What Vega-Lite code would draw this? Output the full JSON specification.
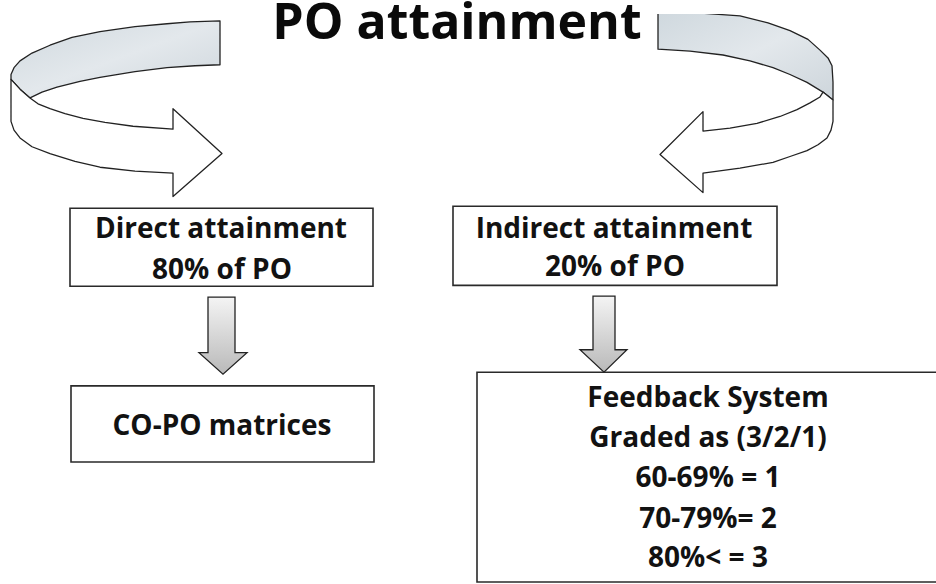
{
  "$schema": "https://vega.github.io/schema/vega-lite/v6.json",
  "width": 936,
  "height": 584,
  "padding": 0,
  "autosize": {"type": "fit", "contains": "padding"},
  "background": "white",
  "config": {"view": {"stroke": null}},
  "datasets": {
    "boxes": [
      {"id": "direct", "x1": 70, "x2": 373, "y1": 199, "y2": 279},
      {"id": "indirect", "x1": 453, "x2": 777, "y1": 197, "y2": 278},
      {"id": "copo", "x1": 71, "x2": 374, "y1": 381, "y2": 459},
      {"id": "feedback", "x1": 477, "x2": 945, "y1": 367, "y2": 582}
    ],
    "shapes": [
      {"id": "L1", "part": "band", "o": 1, "x": 220, "y": 7},
      {"id": "L1", "part": "band", "o": 2, "x": 190, "y": 8},
      {"id": "L1", "part": "band", "o": 3, "x": 167, "y": 10},
      {"id": "L1", "part": "band", "o": 4, "x": 135, "y": 13},
      {"id": "L1", "part": "band", "o": 5, "x": 100, "y": 18},
      {"id": "L1", "part": "band", "o": 6, "x": 72, "y": 24},
      {"id": "L1", "part": "band", "o": 7, "x": 50, "y": 32},
      {"id": "L1", "part": "band", "o": 8, "x": 32, "y": 40},
      {"id": "L1", "part": "band", "o": 9, "x": 20, "y": 48},
      {"id": "L1", "part": "band", "o": 10, "x": 14, "y": 55},
      {"id": "L1", "part": "band", "o": 11, "x": 11, "y": 62},
      {"id": "L1", "part": "band", "o": 12, "x": 11, "y": 67},
      {"id": "L1", "part": "band", "o": 13, "x": 20, "y": 77},
      {"id": "L1", "part": "band", "o": 14, "x": 30, "y": 86},
      {"id": "L1", "part": "band", "o": 15, "x": 42, "y": 80},
      {"id": "L1", "part": "band", "o": 16, "x": 57, "y": 75},
      {"id": "L1", "part": "band", "o": 17, "x": 80, "y": 69},
      {"id": "L1", "part": "band", "o": 18, "x": 100, "y": 65},
      {"id": "L1", "part": "band", "o": 19, "x": 135, "y": 59},
      {"id": "L1", "part": "band", "o": 20, "x": 167, "y": 55},
      {"id": "L1", "part": "band", "o": 21, "x": 195, "y": 53},
      {"id": "L1", "part": "band", "o": 22, "x": 220, "y": 52},

      {"id": "L2", "part": "white", "o": 1, "x": 11, "y": 67},
      {"id": "L2", "part": "white", "o": 2, "x": 11, "y": 110},
      {"id": "L2", "part": "white", "o": 3, "x": 14, "y": 119},
      {"id": "L2", "part": "white", "o": 4, "x": 20, "y": 127},
      {"id": "L2", "part": "white", "o": 5, "x": 32, "y": 136},
      {"id": "L2", "part": "white", "o": 6, "x": 50, "y": 143},
      {"id": "L2", "part": "white", "o": 7, "x": 75, "y": 151},
      {"id": "L2", "part": "white", "o": 8, "x": 100, "y": 157},
      {"id": "L2", "part": "white", "o": 9, "x": 135, "y": 161},
      {"id": "L2", "part": "white", "o": 10, "x": 173, "y": 163},
      {"id": "L2", "part": "white", "o": 11, "x": 173, "y": 187},
      {"id": "L2", "part": "white", "o": 12, "x": 222, "y": 143},
      {"id": "L2", "part": "white", "o": 13, "x": 173, "y": 97},
      {"id": "L2", "part": "white", "o": 14, "x": 173, "y": 118},
      {"id": "L2", "part": "white", "o": 15, "x": 133, "y": 115},
      {"id": "L2", "part": "white", "o": 16, "x": 105, "y": 111},
      {"id": "L2", "part": "white", "o": 17, "x": 83, "y": 107},
      {"id": "L2", "part": "white", "o": 18, "x": 65, "y": 102},
      {"id": "L2", "part": "white", "o": 19, "x": 50, "y": 97},
      {"id": "L2", "part": "white", "o": 20, "x": 38, "y": 92},
      {"id": "L2", "part": "white", "o": 21, "x": 30, "y": 86},
      {"id": "L2", "part": "white", "o": 22, "x": 20, "y": 77},

      {"id": "R1", "part": "band", "o": 1, "x": 658, "y": -2},
      {"id": "R1", "part": "band", "o": 2, "x": 700, "y": -1},
      {"id": "R1", "part": "band", "o": 3, "x": 740, "y": 2},
      {"id": "R1", "part": "band", "o": 4, "x": 768, "y": 9},
      {"id": "R1", "part": "band", "o": 5, "x": 790, "y": 17},
      {"id": "R1", "part": "band", "o": 6, "x": 808, "y": 26},
      {"id": "R1", "part": "band", "o": 7, "x": 820, "y": 37},
      {"id": "R1", "part": "band", "o": 8, "x": 828, "y": 45},
      {"id": "R1", "part": "band", "o": 9, "x": 832, "y": 53},
      {"id": "R1", "part": "band", "o": 10, "x": 833, "y": 70},
      {"id": "R1", "part": "band", "o": 11, "x": 833, "y": 88},
      {"id": "R1", "part": "band", "o": 12, "x": 828, "y": 84},
      {"id": "R1", "part": "band", "o": 13, "x": 823, "y": 80},
      {"id": "R1", "part": "band", "o": 14, "x": 807, "y": 70},
      {"id": "R1", "part": "band", "o": 15, "x": 790, "y": 62},
      {"id": "R1", "part": "band", "o": 16, "x": 773, "y": 55},
      {"id": "R1", "part": "band", "o": 17, "x": 750, "y": 48},
      {"id": "R1", "part": "band", "o": 18, "x": 723, "y": 42},
      {"id": "R1", "part": "band", "o": 19, "x": 690, "y": 38},
      {"id": "R1", "part": "band", "o": 20, "x": 658, "y": 36},

      {"id": "R2", "part": "white", "o": 1, "x": 833, "y": 88},
      {"id": "R2", "part": "white", "o": 2, "x": 833, "y": 110},
      {"id": "R2", "part": "white", "o": 3, "x": 831, "y": 119},
      {"id": "R2", "part": "white", "o": 4, "x": 827, "y": 127},
      {"id": "R2", "part": "white", "o": 5, "x": 818, "y": 134},
      {"id": "R2", "part": "white", "o": 6, "x": 807, "y": 140},
      {"id": "R2", "part": "white", "o": 7, "x": 790, "y": 146},
      {"id": "R2", "part": "white", "o": 8, "x": 773, "y": 152},
      {"id": "R2", "part": "white", "o": 9, "x": 740, "y": 158},
      {"id": "R2", "part": "white", "o": 10, "x": 703, "y": 163},
      {"id": "R2", "part": "white", "o": 11, "x": 703, "y": 183},
      {"id": "R2", "part": "white", "o": 12, "x": 660, "y": 144},
      {"id": "R2", "part": "white", "o": 13, "x": 703, "y": 100},
      {"id": "R2", "part": "white", "o": 14, "x": 703, "y": 120},
      {"id": "R2", "part": "white", "o": 15, "x": 730, "y": 117},
      {"id": "R2", "part": "white", "o": 16, "x": 757, "y": 112},
      {"id": "R2", "part": "white", "o": 17, "x": 780, "y": 105},
      {"id": "R2", "part": "white", "o": 18, "x": 797, "y": 98},
      {"id": "R2", "part": "white", "o": 19, "x": 810, "y": 91},
      {"id": "R2", "part": "white", "o": 20, "x": 820, "y": 85},
      {"id": "R2", "part": "white", "o": 21, "x": 823, "y": 80},
      {"id": "R2", "part": "white", "o": 22, "x": 828, "y": 84},

      {"id": "D1", "part": "down", "o": 1, "x": 208, "y": 290},
      {"id": "D1", "part": "down", "o": 2, "x": 235, "y": 290},
      {"id": "D1", "part": "down", "o": 3, "x": 235, "y": 347},
      {"id": "D1", "part": "down", "o": 4, "x": 247, "y": 347},
      {"id": "D1", "part": "down", "o": 5, "x": 223, "y": 369},
      {"id": "D1", "part": "down", "o": 6, "x": 199, "y": 347},
      {"id": "D1", "part": "down", "o": 7, "x": 208, "y": 347},

      {"id": "D2", "part": "down", "o": 1, "x": 593, "y": 289},
      {"id": "D2", "part": "down", "o": 2, "x": 615, "y": 289},
      {"id": "D2", "part": "down", "o": 3, "x": 615, "y": 344},
      {"id": "D2", "part": "down", "o": 4, "x": 627, "y": 344},
      {"id": "D2", "part": "down", "o": 5, "x": 604, "y": 367},
      {"id": "D2", "part": "down", "o": 6, "x": 580, "y": 344},
      {"id": "D2", "part": "down", "o": 7, "x": 593, "y": 344}
    ],
    "labels": [
      {"text": "Direct attainment", "x": 221, "y": 230},
      {"text": "80% of PO", "x": 222, "y": 271},
      {"text": "Indirect attainment", "x": 614, "y": 229},
      {"text": "20% of PO", "x": 615, "y": 268},
      {"text": "CO-PO matrices", "x": 222, "y": 431},
      {"text": "Feedback System", "x": 708, "y": 403},
      {"text": "Graded as (3/2/1)", "x": 708, "y": 444},
      {"text": "60-69% = 1", "x": 708, "y": 485},
      {"text": "70-79%= 2", "x": 708, "y": 527},
      {"text": "80%< = 3", "x": 708, "y": 567}
    ],
    "title": [
      {"text": "PO attainment", "x": 457, "y": 26}
    ]
  },
  "layer": [
    {
      "data": {"name": "boxes"},
      "mark": {"type": "rect", "fill": "white", "stroke": "#2a2a2a", "strokeWidth": 1.6, "clip": true},
      "encoding": {
        "x": {"field": "x1", "type": "quantitative", "scale": {"domain": [0, 936], "nice": false, "zero": false}, "axis": null},
        "x2": {"field": "x2"},
        "y": {"field": "y1", "type": "quantitative", "scale": {"domain": [0, 584], "nice": false, "zero": false, "reverse": true}, "axis": null},
        "y2": {"field": "y2"}
      }
    },
    {
      "data": {"name": "shapes"},
      "transform": [{"filter": "datum.part === 'band'"}],
      "mark": {"type": "line", "interpolate": "linear-closed", "stroke": "#222", "strokeWidth": 1.3, "strokeJoin": "round",
        "fill": {"gradient": "linear", "x1": 0, "y1": 0, "x2": 1, "y2": 1, "stops": [{"offset": 0, "color": "#cfd8de"}, {"offset": 0.5, "color": "#e3e8ec"}, {"offset": 1, "color": "#cdd5db"}]}, "clip": true},
      "encoding": {
        "x": {"field": "x", "type": "quantitative", "scale": {"domain": [0, 936], "nice": false, "zero": false}, "axis": null},
        "y": {"field": "y", "type": "quantitative", "scale": {"domain": [0, 584], "nice": false, "zero": false, "reverse": true}, "axis": null},
        "detail": {"field": "id"},
        "order": {"field": "o", "type": "quantitative"}
      }
    },
    {
      "data": {"name": "shapes"},
      "transform": [{"filter": "datum.part === 'white'"}],
      "mark": {"type": "line", "interpolate": "linear-closed", "stroke": "#222", "strokeWidth": 1.3, "strokeJoin": "round", "fill": "white", "clip": true},
      "encoding": {
        "x": {"field": "x", "type": "quantitative", "scale": {"domain": [0, 936], "nice": false, "zero": false}, "axis": null},
        "y": {"field": "y", "type": "quantitative", "scale": {"domain": [0, 584], "nice": false, "zero": false, "reverse": true}, "axis": null},
        "detail": {"field": "id"},
        "order": {"field": "o", "type": "quantitative"}
      }
    },
    {
      "data": {"name": "shapes"},
      "transform": [{"filter": "datum.part === 'down'"}],
      "mark": {"type": "line", "interpolate": "linear-closed", "stroke": "#222", "strokeWidth": 1.3, "strokeJoin": "miter",
        "fill": {"gradient": "linear", "x1": 0, "y1": 0, "x2": 0, "y2": 1, "stops": [{"offset": 0, "color": "#f4f4f4"}, {"offset": 1, "color": "#b9b9b9"}]}, "clip": true},
      "encoding": {
        "x": {"field": "x", "type": "quantitative", "scale": {"domain": [0, 936], "nice": false, "zero": false}, "axis": null},
        "y": {"field": "y", "type": "quantitative", "scale": {"domain": [0, 584], "nice": false, "zero": false, "reverse": true}, "axis": null},
        "detail": {"field": "id"},
        "order": {"field": "o", "type": "quantitative"}
      }
    },
    {
      "data": {"name": "labels"},
      "mark": {"type": "text", "font": "Open Sans", "fontWeight": "bold", "fontSize": 28, "color": "#121212", "align": "center", "baseline": "alphabetic"},
      "encoding": {
        "x": {"field": "x", "type": "quantitative", "scale": {"domain": [0, 936], "nice": false, "zero": false}, "axis": null},
        "y": {"field": "y", "type": "quantitative", "scale": {"domain": [0, 584], "nice": false, "zero": false, "reverse": true}, "axis": null},
        "text": {"field": "text"}
      }
    },
    {
      "data": {"name": "title"},
      "mark": {"type": "text", "font": "Open Sans", "fontWeight": "bold", "fontSize": 50, "color": "#0a0a0a", "align": "center", "baseline": "alphabetic"},
      "encoding": {
        "x": {"field": "x", "type": "quantitative", "scale": {"domain": [0, 936], "nice": false, "zero": false}, "axis": null},
        "y": {"field": "y", "type": "quantitative", "scale": {"domain": [0, 584], "nice": false, "zero": false, "reverse": true}, "axis": null},
        "text": {"field": "text"}
      }
    }
  ]
}
